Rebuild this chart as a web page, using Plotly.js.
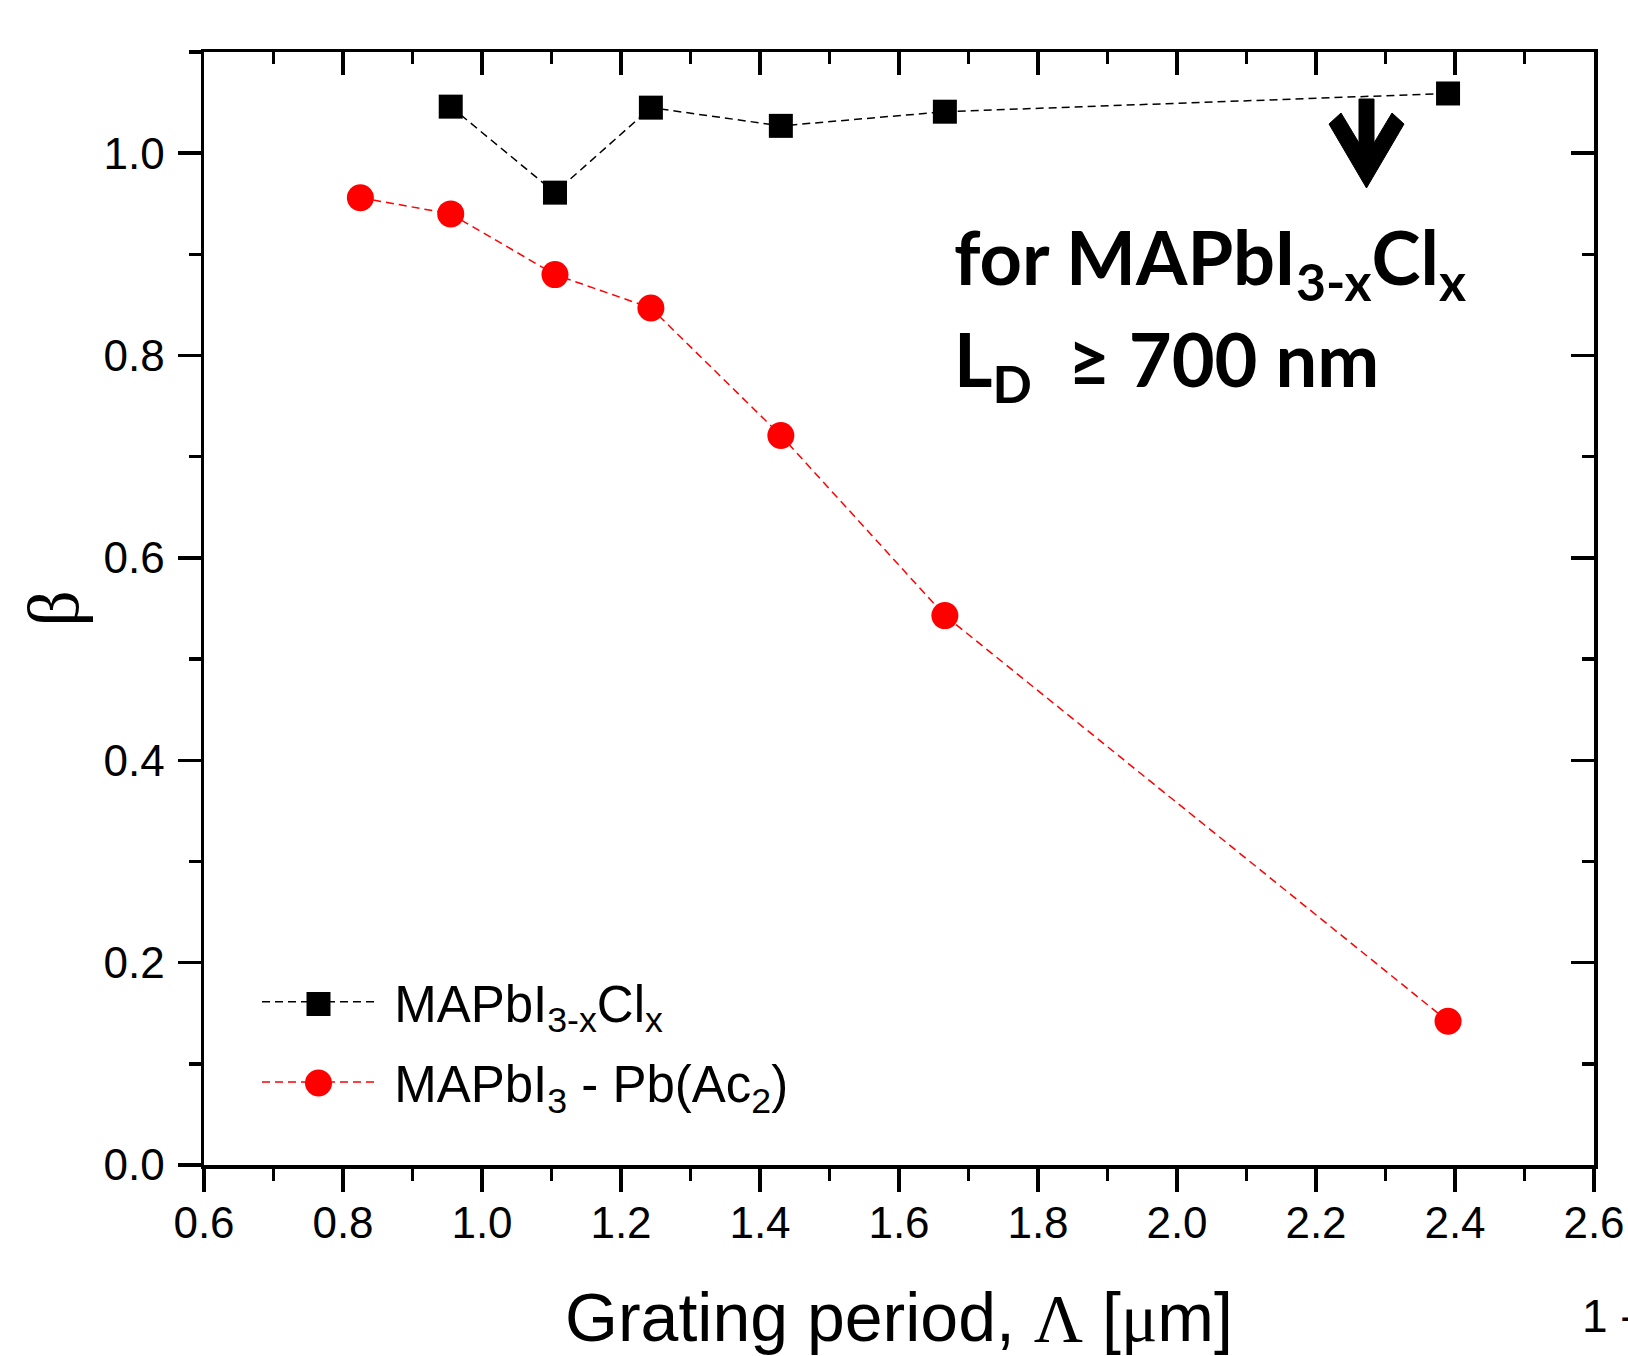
<!DOCTYPE html>
<html><head><meta charset="utf-8">
<script src="https://cdn.plot.ly/plotly-3.0.1.min.js"></script>
<style>html,body{margin:0;padding:0;background:#fff;} #chart{width:1628px;height:1356px;}</style>
</head><body><div id="chart"></div>
<script>
// ---- data ----
const periodClx = [0.955, 1.105, 1.243, 1.430, 1.666, 2.390];
const betaClx   = [1.046, 0.961, 1.045, 1.027, 1.041, 1.059];
const periodAc  = [0.825, 0.955, 1.105, 1.243, 1.430, 1.666, 2.390];
const betaAc    = [0.956, 0.940, 0.880, 0.847, 0.721, 0.543, 0.142];
const nameClx = '\u00a0MAPbI<sub>3-x</sub>Cl<sub>x</sub>';
const nameAc  = '\u00a0MAPbI<sub>3</sub> - Pb(Ac<sub>2</sub>)';
const xTickVals = [0.6, 0.8, 1.0, 1.2, 1.4, 1.6, 1.8, 2.0, 2.2, 2.4, 2.6];
const xTickText = ['0.6','0.8','1.0','1.2','1.4','1.6','1.8','2.0','2.2','2.4','2.6'];
const yTickVals = [0.0, 0.2, 0.4, 0.6, 0.8, 1.0];
const yTickText = ['0.0','0.2','0.4','0.6','0.8','1.0'];
const xRange = [0.6, 2.6];
const yRange = [0, 1.1];

// ---- geometry ----
const W = 1628, H = 1356;
const M = {l: 204, r: 34, t: 52, b: 191};
const PW = W - M.l - M.r, PH = H - M.t - M.b;
const X = px => xRange[0] + (px - M.l) * (xRange[1] - xRange[0]) / PW;
const Y = py => yRange[0] + (M.t + PH - py) * (yRange[1] - yRange[0]) / PH;
const PX = px => (px - M.l) / PW;          // paper x
const PY = py => (M.t + PH - py) / PH;     // paper y

const AX = {linewidth: 3.5, tickwidth: 3.5, len: 23, mlen: 12};
const dash = '8px,5px';
const colClx = '#000000', colAc = '#ff0000';
const sizeClx = 24, sizeAc = 27;

const traces = [
  {x: periodClx, y: betaClx, name: nameClx, legendgroup: 'a', type: 'scatter', mode: 'lines+markers',
   line: {color: colClx, width: 1.5, dash: dash},
   marker: {symbol: 'square', size: sizeClx, color: colClx}},
  {x: periodAc, y: betaAc, name: nameAc, legendgroup: 'b', type: 'scatter', mode: 'lines+markers',
   line: {color: colAc, width: 1.5, dash: dash},
   marker: {symbol: 'circle', size: sizeAc, color: colAc}},
  {x: [null], y: [null], xaxis: 'x2', yaxis: 'y2', showlegend: false, hoverinfo: 'skip', mode: 'markers'}
];

const baseAxis = {showline: true, linecolor: '#000', linewidth: AX.linewidth, showgrid: false, zeroline: false,
  tickcolor: '#000', tickwidth: AX.tickwidth, ticklen: AX.len};

// arrow polygon (pixels) converted to data coords
const arrowPx = [[1329,124],[1341,113],[1359,143],[1359,99],[1374,99],[1374,143],[1392,113],[1404,124],[1366.5,188]];
const arrowPath = arrowPx.map((p, i) => (i ? 'L' : 'M') + X(p[0]).toFixed(5) + ',' + Y(p[1]).toFixed(5)).join(' ') + ' Z';

// legend placement (pixels)
const legX = 257, legTop = 962, legMarkX = legX + 5 + 113 / 2, legRow1 = 1004, legRow2 = 1083;

const layout = {
  width: W, height: H, margin: M,
  paper_bgcolor: '#fff', plot_bgcolor: '#fff',
  font: {family: 'Liberation Sans, Arial, sans-serif', color: '#000'},
  showlegend: true,
  xaxis: Object.assign({}, baseAxis, {
    range: xRange, tickmode: 'array', tickvals: xTickVals, ticktext: xTickText,
    ticks: 'outside', tickfont: {size: 44}, ticklabelstandoff: -6,
    minor: {dtick: 0.1, tick0: 0.6, ticks: 'outside', ticklen: AX.mlen, tickwidth: AX.tickwidth, tickcolor: '#000', showgrid: false},
    title: {text: 'Grating period, <span style="font-family:Liberation Serif">Λ</span> [<span style="font-family:Liberation Serif">μ</span>m]',
            font: {size: 68}, standoff: 54}
  }),
  yaxis: Object.assign({}, baseAxis, {
    range: yRange, tickmode: 'array', tickvals: yTickVals, ticktext: yTickText,
    ticks: 'outside', tickfont: {size: 44}, ticklabelstandoff: 4,
    minor: {dtick: 0.1, tick0: 0, ticks: 'outside', ticklen: AX.mlen, tickwidth: AX.tickwidth, tickcolor: '#000', showgrid: false},
    title: {text: 'β', font: {family: 'Liberation Serif, Times New Roman, serif', size: 72}, standoff: 2}
  }),
  xaxis2: Object.assign({}, baseAxis, {
    overlaying: 'x', side: 'top', anchor: 'y', range: xRange, tickmode: 'array', tickvals: xTickVals,
    ticks: 'inside', showticklabels: false,
    minor: {dtick: 0.1, tick0: 0.6, ticks: 'inside', ticklen: AX.mlen, tickwidth: AX.tickwidth, tickcolor: '#000', showgrid: false}
  }),
  yaxis2: Object.assign({}, baseAxis, {
    overlaying: 'y', side: 'right', anchor: 'x', range: yRange, tickmode: 'array', tickvals: yTickVals,
    ticks: 'inside', showticklabels: false,
    minor: {dtick: 0.1, tick0: 0, ticks: 'inside', ticklen: AX.mlen, tickwidth: AX.tickwidth, tickcolor: '#000', showgrid: false}
  }),
  legend: {x: PX(legX), y: PY(legTop), xanchor: 'left', yanchor: 'top',
           font: {size: 51, color: '#000'}, itemwidth: 113, bgcolor: 'rgba(0,0,0,0)', borderwidth: 0,
           traceorder: 'grouped', tracegroupgap: 11},
  shapes: [
    {type: 'path', xref: 'x', yref: 'y', path: arrowPath, fillcolor: '#000', line: {color: '#000', width: 1}},
    // full-size legend symbols (Plotly caps legend marker size)
    {type: 'rect', xref: 'paper', yref: 'paper', layer: 'above',
     x0: PX(legMarkX - sizeClx / 2), x1: PX(legMarkX + sizeClx / 2), y0: PY(legRow1 + sizeClx / 2), y1: PY(legRow1 - sizeClx / 2),
     fillcolor: colClx, line: {width: 0}},
    {type: 'circle', xref: 'paper', yref: 'paper', layer: 'above',
     x0: PX(legMarkX - sizeAc / 2), x1: PX(legMarkX + sizeAc / 2), y0: PY(legRow2 + sizeAc / 2), y1: PY(legRow2 - sizeAc / 2),
     fillcolor: colAc, line: {width: 0}}
  ],
  annotations: [
    {xref: 'x', yref: 'y', x: X(952), y: Y(262), xanchor: 'left', yanchor: 'middle', showarrow: false,
     text: 'for MAPbI<sub>3-x</sub>Cl<sub>x</sub>', font: {family: 'Lato, sans-serif', size: 74, weight: 700, color: '#000'}},
    {xref: 'x', yref: 'y', x: X(952), y: Y(364), xanchor: 'left', yanchor: 'middle', showarrow: false,
     text: 'L<sub>D</sub>\u00a0 ≥ 700 nm', font: {family: 'Lato, sans-serif', size: 74, weight: 700, color: '#000'}},
    {xref: 'paper', yref: 'paper', x: PX(1580), y: PY(1316), xanchor: 'left', yanchor: 'middle',
     showarrow: false, text: '1 -', font: {size: 46, color: '#000'}}
  ]
};

Plotly.newPlot('chart', traces, layout, {staticPlot: true, displayModeBar: false});
</script></body></html>
